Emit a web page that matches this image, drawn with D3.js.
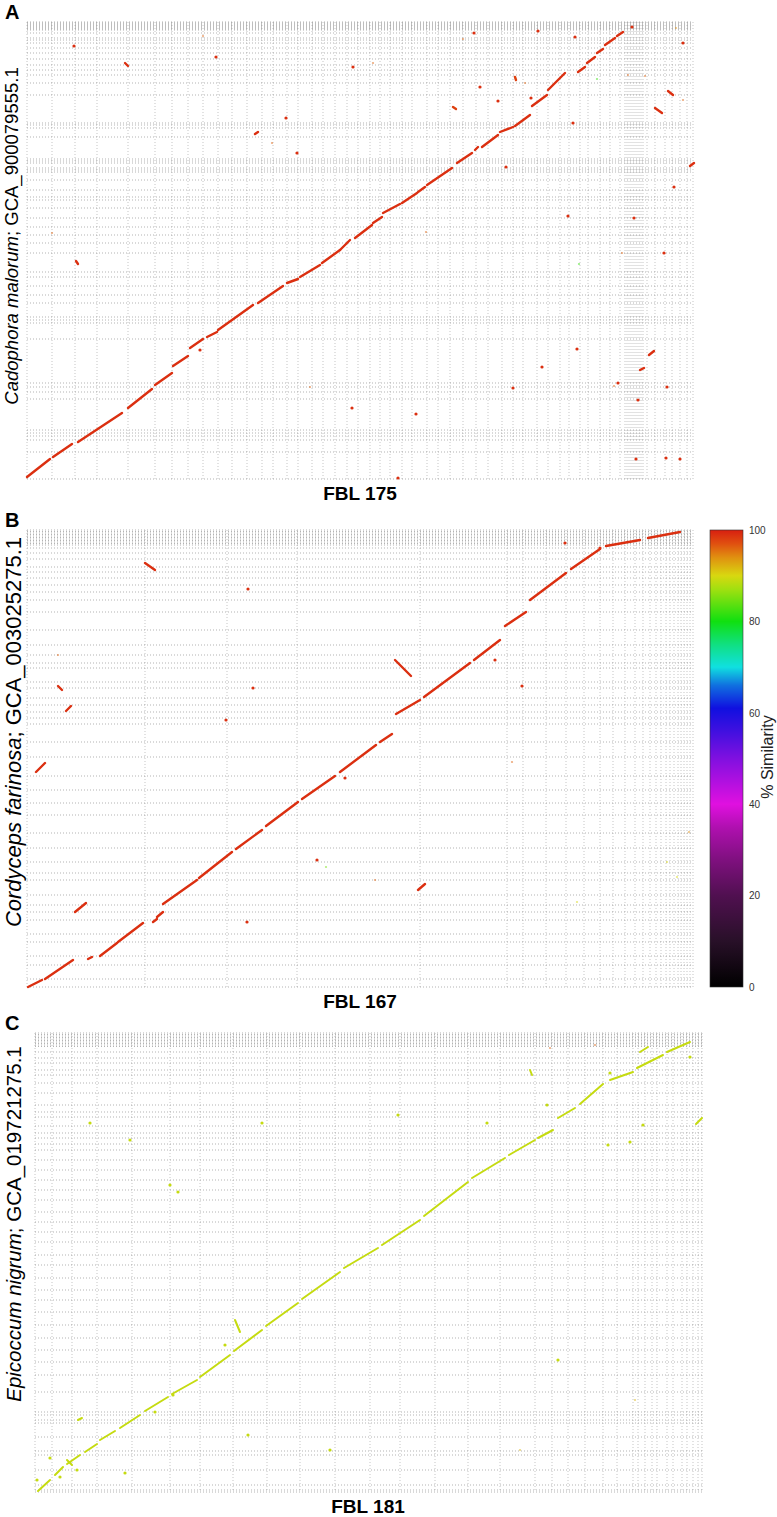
<!DOCTYPE html>
<html>
<head>
<meta charset="utf-8">
<script src="https://cdn.jsdelivr.net/npm/d3@7/dist/d3.min.js"></script>
<style>
  body { margin: 0; background: #fff; }
  svg { display: block; font-family: "Liberation Sans", Arial, sans-serif; }
</style>
</head>
<body>
<svg id="fig" width="777" height="1517"></svg>
<script>
// positions in Mb along the concatenated contigs
// --- panel A : FBL 175 vs Cadophora malorum
const lenA = [66.6, 45.7]
const xBreaksA = [0, 2.5, 4.8, 7.0, 10.1, 12.8, 14.5, 16.1, 17.6, 19.1, 20.5, 22.0, 23.5, 24.6, 26.0, 27.1, 28.5, 29.6, 30.8, 32.0, 33.1, 34.3, 35.3, 36.3, 37.5, 38.5, 40.0, 41.1, 42.3, 43.6, 44.9, 46.1, 47.5, 48.6, 49.6, 51.0, 52.1, 53.3, 54.2, 55.3, 56.1, 57.3, 58.3, 59.3, 59.8, 60.0, 60.2, 60.4, 60.6, 60.8, 61.0, 61.2, 61.4, 61.6, 62.0, 62.8, 63.8, 64.5, 65.3, 66.0, 66.6]
const yBreaksA = [0, 2.7, 3.9, 4.3, 4.6, 4.9, 8.0, 8.7, 9.2, 9.6, 14.0, 15.6, 15.9, 16.2, 17.6, 18.4, 19.3, 20.2, 20.7, 22.6, 23.6, 24.4, 25.2, 26.1, 27.1, 27.9, 28.2, 28.9, 29.9, 30.7, 30.9, 31.1, 31.6, 31.8, 32.0, 34.2, 35.1, 35.4, 35.6, 38.4, 39.6, 40.4, 40.9, 41.4, 42.0, 42.6, 43.1, 43.6, 43.9, 44.1, 44.6, 44.9, 45.0, 45.1, 45.2, 45.3, 45.4, 45.5, 45.6, 45.7]
// [x1, y1, x2, y2, % identity]
const hitsA = [
  [0, 0.2, 2.3, 2.0, 99], [2.6, 2.2, 4.5, 3.5, 99], [5.1, 3.7, 9.5, 6.6, 99], [10.1, 7.1, 12.5, 9.0, 99],
  [12.8, 9.4, 14.5, 10.6, 99], [14.6, 11.3, 16.1, 12.3, 99], [16.3, 13.1, 17.6, 14.0, 99], [18.0, 14.2, 19.0, 14.7, 99],
  [19.1, 14.9, 22.6, 17.4, 99], [23.1, 17.6, 25.6, 19.3, 99], [26.0, 19.6, 27.1, 20.0, 99], [27.3, 20.2, 29.3, 21.4, 99],
  [29.5, 21.6, 31.3, 22.9, 99], [31.3, 22.9, 32.3, 23.9, 99], [32.8, 24.1, 34.5, 25.4, 99], [34.6, 25.6, 35.5, 26.2, 99],
  [35.6, 26.6, 37.3, 27.5, 99], [37.5, 27.6, 39.0, 28.6, 99], [39.1, 28.7, 39.8, 29.2, 99], [40.0, 29.4, 42.5, 31.1, 99],
  [43.0, 31.6, 44.5, 32.6, 99], [44.8, 32.9, 45.1, 33.2, 99], [45.5, 33.2, 47.1, 34.4, 99], [47.3, 34.7, 48.6, 35.2, 99],
  [48.8, 35.3, 50.3, 36.4, 99], [50.5, 37.3, 52.0, 38.4, 99], [52.1, 38.9, 53.8, 40.6, 99], [55.1, 40.7, 55.8, 41.2, 99],
  [56.0, 41.6, 56.8, 42.2, 99], [57.0, 42.6, 57.6, 43.0, 99], [57.8, 43.4, 58.8, 44.1, 99], [59.0, 44.3, 59.6, 44.7, 99],
  [9.8, 41.6, 10.1, 41.3, 99], [22.8, 34.5, 23.1, 34.7, 99], [4.9, 21.8, 5.1, 21.5, 99], [42.6, 37.2, 42.9, 37.0, 98],
  [48.8, 40.2, 48.9, 39.9, 98], [64.1, 38.8, 64.6, 38.4, 99], [62.8, 37.1, 63.5, 36.6, 99], [66.3, 31.3, 66.7, 31.6, 99],
  [62.2, 12.4, 62.7, 12.8, 99], [61.3, 10.9, 61.7, 11.1, 99]
]
// [x, y, % identity]
const dotsA = [
  [4.7, 43.3, 99], [17.6, 44.3, 96], [18.9, 42.2, 99], [32.6, 41.2, 99], [34.6, 41.6, 96], [25.9, 36.1, 99],
  [24.5, 33.6, 96], [27.0, 32.6, 99], [2.5, 24.6, 96], [17.3, 12.9, 99], [28.3, 9.2, 96], [32.5, 7.1, 99],
  [37.1, 0.1, 99], [44.7, 44.6, 99], [51.1, 44.8, 99], [54.8, 44.2, 99], [43.6, 44.0, 96], [65.6, 43.6, 99],
  [45.3, 39.2, 99], [47.1, 37.8, 99], [49.8, 39.6, 96], [50.4, 38.1, 99], [54.6, 35.6, 99], [47.9, 31.2, 99],
  [54.1, 26.3, 99], [64.7, 29.2, 99], [60.7, 26.1, 99], [39.9, 24.7, 96], [60.1, 40.4, 96], [61.8, 40.3, 96],
  [64.9, 45.1, 94], [65.6, 37.9, 96], [55.0, 13.0, 99], [51.5, 11.2, 99], [48.6, 9.1, 99], [38.9, 6.5, 99],
  [59.1, 9.6, 99], [58.7, 9.3, 96], [61.1, 7.9, 99], [64.0, 9.2, 99], [60.9, 2.0, 99], [63.9, 2.1, 99],
  [65.3, 2.0, 99], [63.7, 22.6, 99], [59.5, 22.6, 96], [60.5, 45.2, 99], [57.0, 40.0, 82], [55.2, 21.5, 82]
]

// --- panel B : FBL 167 vs Cordyceps farinosa
const lenB = [66.6, 45.7]
const xBreaksB = [0, 11.8, 20.0, 27.0, 39.3, 48.0, 49.6, 51.9, 53.9, 55.7, 57.3, 58.6, 59.8, 60.8, 61.6, 62.3, 62.9, 63.4, 63.9, 64.3, 64.7, 65.1, 65.4, 65.7, 66.0, 66.3, 66.6]
const yBreaksB = [0, 0.8, 2.2, 3.1, 4.5, 5.3, 6.7, 7.5, 8.2, 9.2, 10.7, 11.4, 12.5, 13.9, 15.4, 17.2, 18.4, 19.7, 21.1, 23.0, 24.5, 26.3, 26.9, 27.5, 28.2, 28.9, 29.9, 30.5, 31.9, 32.4, 33.2, 34.2, 35.7, 37.5, 38.7, 39.5, 40.2, 40.9, 41.5, 42.0, 42.8, 43.4, 43.9, 44.2, 44.35, 44.5, 44.65, 44.8, 44.95, 45.1, 45.25, 45.4, 45.55, 45.7]
const hitsB = [
  [0.1, 0, 1.5, 0.7, 99], [1.8, 0.8, 4.6, 2.7, 99], [6.1, 2.8, 6.5, 3.0, 99], [7.3, 3.1, 9.0, 4.4, 99],
  [9.1, 4.5, 11.6, 6.4, 99], [12.6, 6.5, 13.0, 6.8, 99], [13.0, 7.0, 13.6, 7.5, 99], [13.6, 8.3, 17.0, 10.7, 99],
  [17.2, 10.9, 20.5, 13.5, 99], [20.9, 13.8, 23.5, 15.7, 99], [23.9, 16.1, 27.1, 18.5, 99], [27.5, 18.8, 30.8, 21.1, 99],
  [31.3, 21.5, 34.9, 24.2, 99], [35.3, 24.5, 36.5, 25.3, 99], [36.9, 27.3, 39.3, 28.7, 99], [39.7, 29.0, 44.3, 32.4, 99],
  [44.7, 32.7, 47.3, 34.7, 99], [47.8, 36.1, 49.9, 37.5, 99], [50.3, 38.7, 53.9, 41.4, 99], [54.4, 41.8, 57.3, 43.8, 99],
  [57.9, 44.1, 61.3, 44.7, 99], [62.1, 44.9, 65.3, 45.5, 99],
  [11.8, 42.4, 12.8, 41.7, 99], [36.8, 32.7, 38.4, 31.1, 99], [4.8, 7.5, 5.9, 8.4, 99], [0.9, 21.5, 1.8, 22.4, 99],
  [3.1, 30.1, 3.5, 29.7, 99], [3.9, 27.6, 4.4, 28.1, 99], [39.1, 9.7, 39.8, 10.3, 99]
]
const dotsB = [
  [22.1, 39.8, 99], [19.9, 26.7, 99], [22.6, 29.9, 99], [29.0, 12.7, 99], [29.9, 12.0, 85], [22.0, 6.5, 99],
  [34.8, 10.7, 96], [53.8, 44.4, 99], [57.3, 43.9, 99], [31.8, 20.9, 99], [3.1, 33.2, 96], [46.8, 32.7, 99],
  [49.5, 30.1, 99], [64.0, 12.5, 90], [65.0, 11.0, 90], [66.2, 15.5, 94], [48.5, 22.5, 96], [55.0, 8.5, 90]
]

// --- panel C : FBL 181 vs Epicoccum nigrum
const lenC = [66.7, 45.9]
const xBreaksC = [0, 1.7, 3.7, 6.2, 9.7, 13.5, 16.5, 19.8, 23.2, 26.5, 30.0, 33.5, 36.5, 40.0, 43.3, 46.5, 50.0, 51.7, 53.3, 55.0, 56.8, 58.2, 59.8, 60.3, 61.0, 61.7, 62.2, 63.2, 63.8, 64.7, 65.2, 65.8, 66.3, 66.7]
const yBreaksC = [0, 0.2, 0.7, 2.2, 3.7, 4.1, 5.5, 6.9, 7.2, 7.7, 8.0, 10.0, 11.7, 13.0, 14.2, 15.4, 16.7, 18.0, 19.2, 20.2, 21.4, 22.7, 23.7, 25.0, 26.0, 27.0, 28.0, 29.2, 30.2, 31.2, 32.2, 33.2, 34.2, 34.8, 35.4, 35.9, 36.6, 37.5, 38.0, 38.7, 39.9, 40.9, 41.7, 42.2, 42.9, 43.4, 44.0, 44.55, 44.7, 44.85, 45.0, 45.15, 45.3, 45.45, 45.6, 45.75, 45.9]
const hitsC = [
  [0.3, 0.1, 1.5, 1.2, 89], [2.0, 1.7, 2.8, 2.5, 89], [3.2, 2.8, 4.5, 3.7, 89], [5.0, 4.0, 6.2, 4.8, 89],
  [6.5, 5.2, 8.0, 6.1, 89], [8.5, 6.4, 10.5, 7.7, 89], [11.0, 8.1, 13.3, 9.5, 89], [13.7, 9.8, 16.2, 11.2, 89],
  [16.5, 11.5, 19.5, 13.7, 89], [19.9, 14.1, 22.7, 16.2, 89], [23.1, 16.6, 26.3, 18.9, 89], [26.7, 19.3, 30.5, 22.0, 89],
  [30.9, 22.4, 34.3, 24.4, 89], [34.7, 24.7, 38.5, 27.2, 89], [38.9, 27.6, 43.3, 31.0, 89], [43.7, 31.4, 47.0, 33.4, 89],
  [47.4, 33.7, 50.0, 35.2, 89], [50.3, 35.4, 51.8, 36.2, 89], [52.3, 37.4, 54.0, 38.4, 89], [54.5, 38.8, 56.8, 40.8, 89],
  [57.5, 41.2, 59.8, 42.0, 89], [60.2, 42.4, 62.8, 43.7, 89], [63.2, 44.0, 65.5, 45.0, 89], [60.5, 44.0, 61.3, 44.5, 89],
  [3.2, 3.2, 3.7, 2.7, 89], [4.3, 7.2, 4.7, 7.4, 89], [49.5, 42.2, 49.7, 41.7, 89], [66.1, 36.8, 66.7, 37.4, 89],
  [20.0, 17.2, 20.5, 16.0, 89]
]
const dotsC = [
  [0.2, 1.2, 89], [1.5, 3.4, 89], [2.5, 1.5, 89], [4.2, 2.2, 89], [9.0, 1.9, 89], [21.3, 5.7, 89],
  [13.8, 9.7, 89], [12.0, 8.0, 89], [51.2, 38.7, 89], [57.5, 41.9, 89], [57.3, 34.7, 89], [59.5, 35.0, 89],
  [60.8, 36.7, 89], [65.5, 43.5, 89], [5.5, 36.9, 89], [9.5, 35.2, 89], [13.5, 30.7, 89], [14.3, 30.0, 89],
  [22.7, 36.9, 89], [36.3, 37.7, 89], [45.2, 36.9, 89], [52.3, 13.2, 89], [19.0, 14.7, 89], [29.5, 4.2, 89],
  [48.5, 4.2, 92], [60.0, 9.2, 92], [51.5, 44.4, 96], [56.0, 44.7, 96]
]

// colour key
const pidStops = [0, 10, 20, 28, 35, 40, 45, 50, 56, 61, 66, 70, 75, 80, 87, 90, 94, 97, 100]
const pidColors = ["#000000", "#281028", "#501050", "#801080", "#b010b0", "#e010e0", "#b010e0", "#8010e0", "#4010e0", "#1010e0", "#1070e0", "#10e0e0", "#10e080", "#10e010", "#a0e010", "#d8d810", "#e09010", "#e05010", "#d81f10"]
const pidTicks = [0, 20, 40, 60, 80, 100]

const color = d3.scaleLinear().domain(pidStops).range(pidColors)
const svg = d3.select("#fig")

const drawPanel = (p) => {
  const x = d3.scaleLinear().domain([0, p.len[0]]).range([p.left, p.right])
  const y = d3.scaleLinear().domain([0, p.len[1]]).range([p.bottom, p.top])
  const g = svg.append("g")

  g.selectAll(".vb").data(p.xBreaks).enter().append("line")
    .attr("x1", d => x(d)).attr("x2", d => x(d))
    .attr("y1", p.top).attr("y2", p.bottom)
    .attr("stroke", "#a0a0a0").attr("stroke-width", 0.6)
    .attr("stroke-dasharray", "1,2")
  g.selectAll(".hb").data(p.yBreaks).enter().append("line")
    .attr("y1", d => y(d)).attr("y2", d => y(d))
    .attr("x1", p.left).attr("x2", p.right)
    .attr("stroke", "#808080").attr("stroke-width", 0.6)
    .attr("stroke-dasharray", "1,2")

  g.selectAll(".hit").data(p.hits).enter().append("line")
    .attr("x1", d => x(d[0])).attr("y1", d => y(d[1]))
    .attr("x2", d => x(d[2])).attr("y2", d => y(d[3]))
    .attr("stroke", d => color(d[4]))
    .attr("stroke-width", p.lw).attr("stroke-linecap", "round")
  g.selectAll(".dot").data(p.dots).enter().append("circle")
    .attr("cx", d => x(d[0])).attr("cy", d => y(d[1]))
    .attr("r", d => d[2] == 99 || d[2] == 89 ? 1.6 : 1.1)
    .attr("fill", d => color(d[2]))
    .attr("opacity", d => d[2] == 99 || d[2] == 89 ? 1 : 0.55)

  g.append("text").attr("x", 5).attr("y", p.top - 3)
    .style("font-size", "20px").style("font-weight", "bold").text(p.letter)
  g.append("text").attr("x", p.titleX).attr("y", p.bottom + 21)
    .attr("text-anchor", "middle")
    .style("font-size", "19px").style("font-weight", "bold").text(p.xTitle)
  const yl = g.append("text")
    .attr("transform", `translate(${p.labelX},${p.labelY}) rotate(-90)`)
    .attr("text-anchor", "middle").style("font-size", p.labelSize + "px")
  yl.append("tspan").style("font-style", "italic").text(p.species)
  yl.append("tspan").text("; " + p.accession)
}

drawPanel({ len: lenA, xBreaks: xBreaksA, yBreaks: yBreaksA, hits: hitsA, dots: dotsA, lw: 2.4,
  left: 27, right: 693, top: 22, bottom: 479, letter: "A", xTitle: "FBL 175", titleX: 360,
  species: "Cadophora malorum", accession: "GCA_900079555.1", labelX: 18, labelY: 236, labelSize: 18.5 })
drawPanel({ len: lenB, xBreaks: xBreaksB, yBreaks: yBreaksB, hits: hitsB, dots: dotsB, lw: 2.4,
  left: 27, right: 693, top: 530, bottom: 987, letter: "B", xTitle: "FBL 167", titleX: 360,
  species: "Cordyceps farinosa", accession: "GCA_003025275.1", labelX: 21, labelY: 732, labelSize: 22 })
drawPanel({ len: lenC, xBreaks: xBreaksC, yBreaks: yBreaksC, hits: hitsC, dots: dotsC, lw: 2.0,
  left: 35, right: 702, top: 1033, bottom: 1492, letter: "C", xTitle: "FBL 181", titleX: 368,
  species: "Epicoccum nigrum", accession: "GCA_019721275.1", labelX: 21, labelY: 1224, labelSize: 20.5 })

// colour bar
const cb = d3.scaleLinear().domain([0, 100]).range([987, 530])
const grad = svg.append("defs").append("linearGradient").attr("id", "pidGrad")
  .attr("x1", 0).attr("y1", 1).attr("x2", 0).attr("y2", 0)
grad.selectAll("stop").data(pidStops).enter().append("stop")
  .attr("offset", d => d / 100).attr("stop-color", d => color(d))
svg.append("rect").attr("x", 710).attr("y", cb(100)).attr("width", 33).attr("height", cb(0) - cb(100))
  .attr("fill", "url(#pidGrad)").attr("stroke", "#333").attr("stroke-width", 0.6)
const cbAxis = svg.append("g").attr("transform", "translate(745,0)")
  .call(d3.axisRight(cb).tickValues(pidTicks).tickSize(0).tickPadding(4))
cbAxis.select(".domain").remove()
cbAxis.selectAll("text").style("font-size", "10px").style("font-family", "Liberation Sans, Arial, sans-serif").attr("fill", "#333")
svg.append("text").attr("transform", `translate(773,757) rotate(-90)`)
  .attr("text-anchor", "middle").style("font-size", "16px").attr("fill", "#222").text("% Similarity")
</script>
</body>
</html>
